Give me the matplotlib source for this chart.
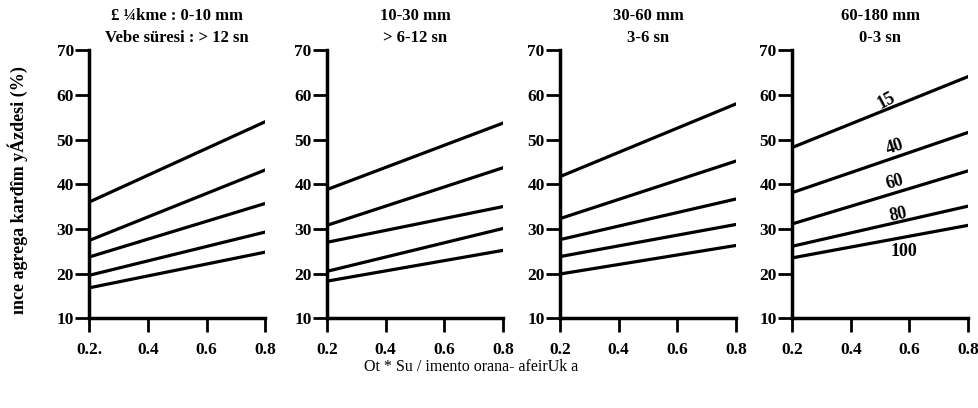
import numpy as np
from matplotlib import pyplot as plt

plt.rcParams["font.family"] = ["Liberation Serif", "DejaVu Serif"]
plt.rcParams["font.weight"] = "bold"

# water / cement ratio at both ends of each line
x = [0.2, 0.8]

# fine aggregate percent (%) at x = 0.2 and x = 0.8, five lines per panel
panel1 = [[36.0, 54.0], [27.4, 43.2], [23.7, 35.7], [19.6, 29.3], [16.8, 24.8]]
panel2 = [[38.8, 53.7], [30.8, 43.7], [27.0, 35.0], [20.5, 30.1], [18.3, 25.2]]
panel3 = [[41.7, 58.0], [32.3, 45.2], [27.6, 36.7], [23.8, 31.0], [19.9, 26.3]]
panel4 = [[48.2, 64.1], [38.1, 51.6], [31.1, 43.0], [26.1, 35.1], [23.5, 30.8]]
panels = [panel1, panel2, panel3, panel4]

titles = [
    "£ ¼kme : 0-10 mm\nVebe süresi : > 12 sn",
    "10-30 mm\n> 6-12 sn",
    "30-60 mm\n3-6 sn",
    "60-180 mm\n0-3 sn",
]

xticks = [0.2, 0.4, 0.6, 0.8]
xtick_labels = [
    ["0.2.", "0.4", "0.6", "0.8"],
    ["0.2", "0.4", "0.6", "0.8"],
    ["0.2", "0.4", "0.6", "0.8"],
    ["0.2", "0.4", "0.6", "0.8"],
]
yticks = [10, 20, 30, 40, 50, 60, 70]

# curve labels on the last panel
curve_labels = ["15", "40", "60", "80", "100"]
label_x = [0.52, 0.55, 0.55, 0.56, 0.58]
label_y = [58.6, 48.4, 40.4, 33.2, 25.0]
label_rot = [28, 18, 16, 12, 0]

fig = plt.figure(figsize=(9.79, 4.08), dpi=100)

lefts = [0.091, 0.334, 0.572, 0.809]
for i, data in enumerate(panels):
    ax = fig.add_axes([lefts[i], 0.22, 0.18, 0.657])
    for line in data:
        ax.plot(x, line, color="black", linewidth=2.3, solid_capstyle="round")
    ax.set_xlim(0.2, 0.8)
    ax.set_ylim(10, 70)
    ax.set_xticks(xticks)
    ax.set_xticklabels(xtick_labels[i])
    ax.set_yticks(yticks)
    ax.spines["top"].set_visible(False)
    ax.spines["right"].set_visible(False)
    ax.spines["left"].set_linewidth(2.5)
    ax.spines["bottom"].set_linewidth(2.5)
    ax.tick_params(axis="both", direction="out", length=10, width=2,
                   labelsize=12.5)
    ax.tick_params(axis="x", pad=7)
    ax.tick_params(axis="y", pad=1)
    for lab in ax.get_xticklabels() + ax.get_yticklabels():
        lab.set_fontweight("bold")
    ax.set_title(titles[i], fontsize=12, fontweight="bold", pad=6,
                 linespacing=1.45)
    ax.patch.set_visible(False)
    if i == 3:
        for lbl, lx, ly, rot in zip(curve_labels, label_x, label_y, label_rot):
            ax.text(lx, ly, lbl, fontsize=13, fontweight="bold",
                    rotation=rot, ha="center", va="center")

fig.text(0.018, 0.534, "ınce agrega karđîm yÁzdesi (%)", rotation=90,
         fontsize=13, fontweight="bold", ha="center", va="center")
fig.text(0.481, 0.1, "Ot * Su / imento orana- afeirUk a", fontsize=11.5,
         fontweight="normal", ha="center", va="center")

plt.savefig("out.png", dpi=100)
